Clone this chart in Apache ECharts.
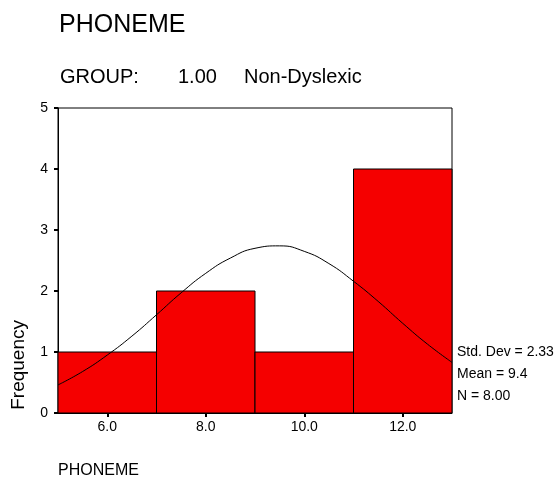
<!DOCTYPE html>
<html><head><meta charset="utf-8">
<script src="https://cdn.jsdelivr.net/npm/echarts@6/dist/echarts.min.js"></script>
<style>html,body{margin:0;padding:0;background:#fff}#c{width:556px;height:483px}</style>
</head><body><div id="c"></div>
<script>
// Histogram bins (lower edge, upper edge) and frequencies
const binStarts = [5, 7, 9, 11];
const binEnds = [7, 9, 11, 13];
const frequencies = [1, 2, 1, 4];
// Normal curve points
const curveX = [5, 5.5, 6, 6.5, 7, 7.5, 8, 8.5, 9, 9.5, 10, 10.5, 11, 11.5, 12, 12.5, 13];
const curveY = [0.46, 0.68, 0.95, 1.26, 1.61, 1.97, 2.29, 2.54, 2.70, 2.74, 2.65, 2.45, 2.16, 1.83, 1.47, 1.13, 0.83];
const xTickLabels = [6, 8, 10, 12];
const yTickLabels = [0, 1, 2, 3, 4, 5];
const statsLines = ['Std. Dev = 2.33', 'Mean = 9.4', 'N = 8.00'];

const chart = echarts.init(document.getElementById('c'), null, {renderer: 'canvas'});
const font = 'Liberation Sans, Arial, sans-serif';
chart.setOption({
  animation: false,
  backgroundColor: '#fff',
  grid: {left: 58, right: 104, top: 108, bottom: 70, show: true, borderColor: '#000', borderWidth: 1, backgroundColor: 'transparent'},
  xAxis: {
    type: 'value', min: 5, max: 13,
    splitLine: {show: false},
    axisLine: {show: true, onZero: false, lineStyle: {color: '#000', width: 1}},
    axisTick: {show: true, customValues: xTickLabels, length: 4, lineStyle: {color: '#000', width: 2}},
    axisLabel: {customValues: xTickLabels, color: '#000', fontFamily: font, fontSize: 14, margin: 7,
      formatter: v => v.toFixed(1)}
  },
  yAxis: {
    type: 'value', min: 0, max: 5, interval: 1,
    splitLine: {show: false},
    axisLine: {show: true, lineStyle: {color: '#000', width: 1}},
    axisTick: {show: true, length: 4, lineStyle: {color: '#000', width: 2}},
    axisLabel: {color: '#000', fontFamily: font, fontSize: 14, margin: 10,
      customValues: yTickLabels}
  },
  series: [
    {
      type: 'custom',
      data: binStarts.map((s, i) => [s, binEnds[i], frequencies[i]]),
      encode: {x: [0, 1], y: 2},
      renderItem: function (params, api) {
        const p0 = api.coord([api.value(0), api.value(2)]);
        const p1 = api.coord([api.value(1), 0]);
        return {
          type: 'rect',
          shape: {x: p0[0], y: p0[1], width: p1[0] - p0[0], height: p1[1] - p0[1]},
          style: {fill: '#F50000', stroke: '#000', lineWidth: 1}
        };
      },
      z: 1
    },
    {
      type: 'line',
      data: curveX.map((x, i) => [x, curveY[i]]),
      smooth: true,
      showSymbol: false,
      lineStyle: {color: '#000', width: 1},
      z: 3
    }
  ],
  graphic: [
    {type: 'text', left: 59, top: 13, style: {text: 'PHONEME', font: '25px ' + font, fill: '#000'}},
    {type: 'text', left: 60, top: 67, style: {text: 'GROUP:', font: '20px ' + font, fill: '#000'}},
    {type: 'text', left: 178, top: 67, style: {text: '1.00', font: '20px ' + font, fill: '#000'}},
    {type: 'text', left: 244, top: 67, style: {text: 'Non-Dyslexic', font: '20px ' + font, fill: '#000'}},
    {type: 'text', left: 9, top: 320, rotation: Math.PI / 2,
      style: {text: 'Frequency', font: '19px ' + font, fill: '#000'}},
    {type: 'text', left: 58, top: 463, style: {text: 'PHONEME', font: '16px ' + font, fill: '#000'}},
    {type: 'text', left: 457, top: 345, style: {text: statsLines[0], font: '14px ' + font, fill: '#000'}},
    {type: 'text', left: 457, top: 367, style: {text: statsLines[1], font: '14px ' + font, fill: '#000'}},
    {type: 'text', left: 457, top: 389, style: {text: statsLines[2], font: '14px ' + font, fill: '#000'}}
  ]
});
</script>
</body></html>
